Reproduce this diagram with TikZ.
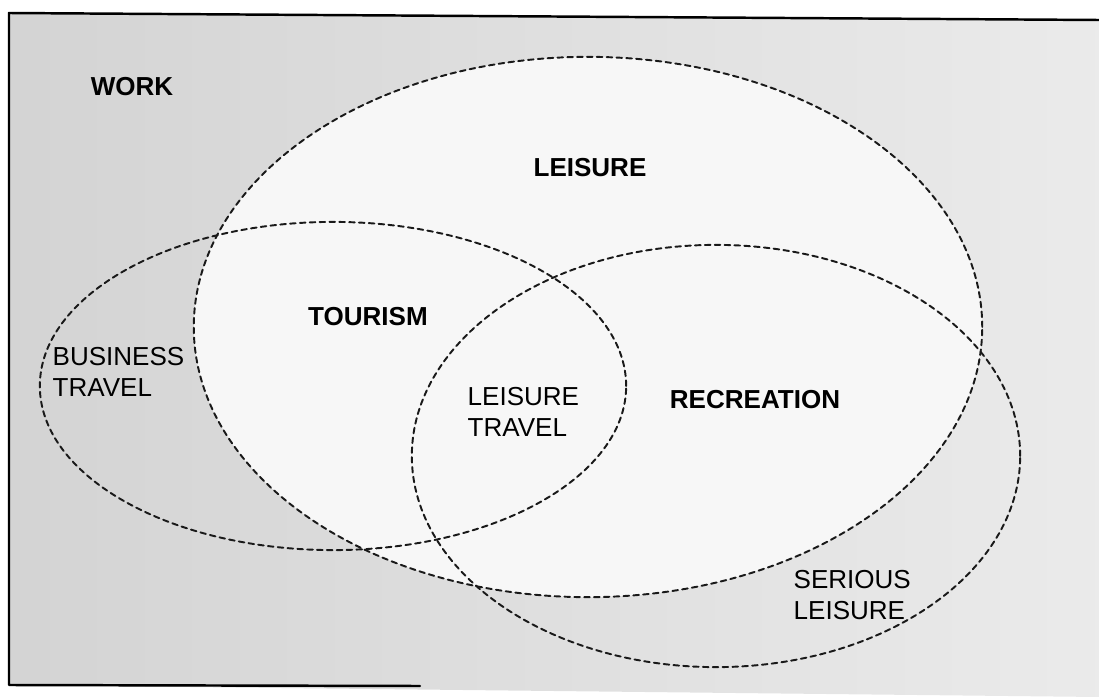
\documentclass[tikz,border=0pt]{standalone}
\usepackage{fontspec}
\setmainfont{Liberation Sans}
\begin{document}
\begin{tikzpicture}[x=0.01cm,y=-0.01cm,line cap=round,line join=round]
  \tikzset{
    zone/.style={draw=black!90,line width=0.55pt,dash pattern=on 1.6pt off 1.2pt},
    bigword/.style={font=\fontsize{7.4pt}{8.9pt}\selectfont\bfseries,inner sep=0pt},
    smallword/.style={font=\fontsize{7.4pt}{8.9pt}\selectfont,inner sep=0pt,align=left,anchor=west}
  }
  \useasboundingbox (0,0) rectangle (1099,697);
  % grey page, left darker; leisure field left white
  \shade[left color=black!17,right color=black!8] (9,13) -- (1099,20) -- (1099,697) -- (9,685) -- cycle;
  \fill[black!3] (588,327) ellipse [x radius=3.94cm,y radius=2.70cm];
  \draw[line width=0.7pt] (1099,20) -- (9,13) -- (9,685) -- (420,686);
  % leisure, tourism, recreation
  \draw[zone] (588,327) ellipse [x radius=3.94cm,y radius=2.70cm];
  \draw[zone] (333,386) ellipse [x radius=2.93cm,y radius=1.64cm];
  \draw[zone] (716,456) ellipse [x radius=3.04cm,y radius=2.11cm];
  \node[bigword] (work) at (132,87) {WORK};
  \node[bigword] (leisure) at (590,168) {LEISURE};
  \node[bigword] (tourism) at (368,317) {TOURISM};
  \node[bigword] (recreation) at (755,400) {RECREATION};
  \node[smallword] (business) at (52,372) {BUSINESS\\TRAVEL};
  \node[smallword] (leisuretravel) at (467,412) {LEISURE\\TRAVEL};
  \node[smallword] (serious) at (793,595) {SERIOUS\\LEISURE};
\end{tikzpicture}
\end{document}
